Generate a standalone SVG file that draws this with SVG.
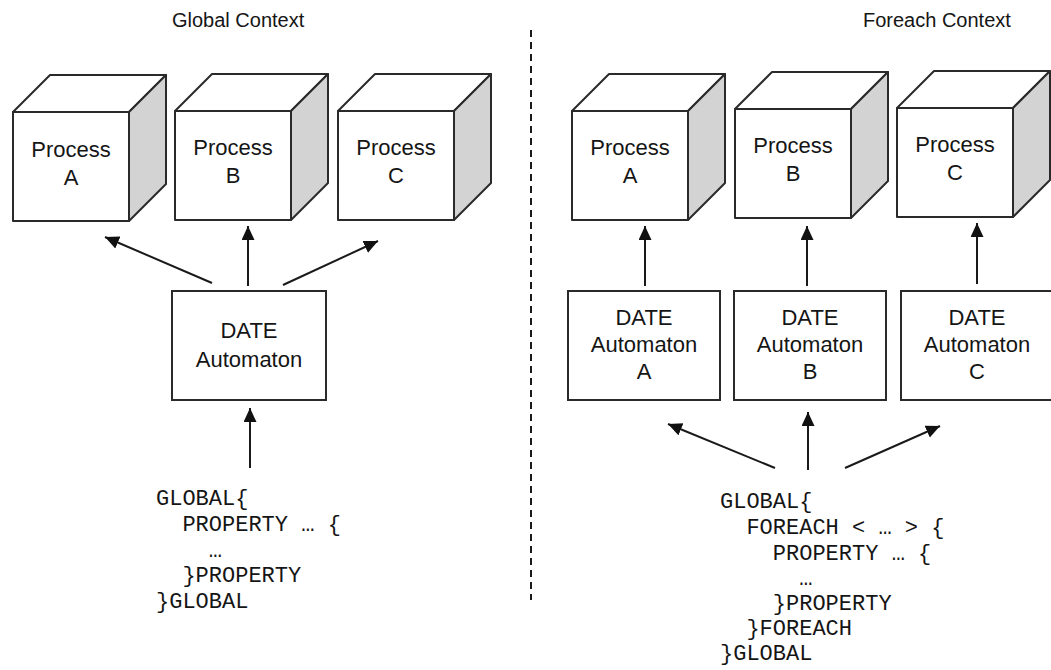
<svg xmlns="http://www.w3.org/2000/svg" width="1051" height="670" viewBox="0 0 1051 670">
  <style>
    .face { fill: #ffffff; stroke: #2a2a2a; stroke-width: 2; stroke-linejoin: round; }
    .side { fill: #d3d3d3; stroke: #2a2a2a; stroke-width: 2; stroke-linejoin: round; }
    .box { fill: #ffffff; stroke: #2a2a2a; stroke-width: 2; }
    .lbl { font-family: "Liberation Sans", Arial, sans-serif; font-size: 22px; fill: #151515; text-anchor: middle; }
    .title { font-family: "Liberation Sans", Arial, sans-serif; font-size: 20px; fill: #151515; }
    .code { font-family: "Liberation Mono", "Courier New", monospace; font-size: 22px; fill: #151515; white-space: pre; }
    .arrow { stroke: #1a1a1a; stroke-width: 2; fill: none; marker-end: url(#head); }
    .divider { stroke: #1a1a1a; stroke-width: 2; stroke-dasharray: 7 5; }
  </style>
  <defs>
    <marker id="head" markerUnits="userSpaceOnUse" markerWidth="16" markerHeight="14" refX="14" refY="6.5" orient="auto">
      <path d="M0,0 L14,6.5 L0,13 Z" fill="#111111"/>
    </marker>
    <!-- cube: front face 116x109, depth 37 -->
    <g id="cube">
      <path class="face" d="M0,0 L37,-37 L153,-37 L116,0 Z"/>
      <path class="side" d="M116,0 L153,-37 L153,72 L116,109 Z"/>
      <rect class="face" x="0" y="0" width="116" height="109"/>
    </g>
  </defs>

  <!-- titles and divider -->
  <text class="title" x="172" y="27">Global Context</text>
  <text class="title" x="863" y="27">Foreach Context</text>
  <line class="divider" x1="531" y1="30" x2="531" y2="600"/>

  <!-- Global context: processes -->
  <g id="g-process-a">
    <use href="#cube" x="13" y="112"/>
    <text class="lbl" x="71" y="157">Process</text>
    <text class="lbl" x="71" y="185">A</text>
  </g>
  <g id="g-process-b">
    <use href="#cube" x="175" y="111"/>
    <text class="lbl" x="233" y="155">Process</text>
    <text class="lbl" x="233" y="183">B</text>
  </g>
  <g id="g-process-c">
    <use href="#cube" x="338" y="111"/>
    <text class="lbl" x="396" y="155">Process</text>
    <text class="lbl" x="396" y="183">C</text>
  </g>

  <g id="g-automaton">
    <rect class="box" x="172" y="291" width="154" height="109"/>
    <text class="lbl" x="249" y="338">DATE</text>
    <text class="lbl" x="249" y="367">Automaton</text>
  </g>

  <g id="g-code">
    <text class="code" x="156" y="505">GLOBAL{</text>
    <text class="code" x="156" y="531">  PROPERTY … {</text>
    <text class="code" x="156" y="557">    …</text>
    <text class="code" x="156" y="582">  }PROPERTY</text>
    <text class="code" x="156" y="608">}GLOBAL</text>
  </g>

  <!-- Foreach context: processes -->
  <g id="f-process-a">
    <use href="#cube" x="572" y="111"/>
    <text class="lbl" x="630" y="155">Process</text>
    <text class="lbl" x="630" y="183">A</text>
  </g>
  <g id="f-process-b">
    <use href="#cube" x="735" y="109"/>
    <text class="lbl" x="793" y="153">Process</text>
    <text class="lbl" x="793" y="181">B</text>
  </g>
  <g id="f-process-c">
    <use href="#cube" x="897" y="108"/>
    <text class="lbl" x="955" y="152">Process</text>
    <text class="lbl" x="955" y="180">C</text>
  </g>

  <g id="f-automaton-a">
    <rect class="box" x="568" y="291" width="152" height="109"/>
    <text class="lbl" x="644" y="325">DATE</text>
    <text class="lbl" x="644" y="352">Automaton</text>
    <text class="lbl" x="644" y="379">A</text>
  </g>
  <g id="f-automaton-b">
    <rect class="box" x="734" y="291" width="152" height="109"/>
    <text class="lbl" x="810" y="325">DATE</text>
    <text class="lbl" x="810" y="352">Automaton</text>
    <text class="lbl" x="810" y="379">B</text>
  </g>
  <g id="f-automaton-c">
    <rect class="box" x="901" y="291" width="152" height="109"/>
    <text class="lbl" x="977" y="325">DATE</text>
    <text class="lbl" x="977" y="352">Automaton</text>
    <text class="lbl" x="977" y="379">C</text>
  </g>

  <g id="f-code">
    <text class="code" x="720" y="508">GLOBAL{</text>
    <text class="code" x="720" y="534">  FOREACH &lt; … &gt; {</text>
    <text class="code" x="720" y="560">    PROPERTY … {</text>
    <text class="code" x="720" y="585">      …</text>
    <text class="code" x="720" y="610">    }PROPERTY</text>
    <text class="code" x="720" y="635">  }FOREACH</text>
    <text class="code" x="720" y="660">}GLOBAL</text>
  </g>

  <!-- connectors -->
  <g id="connectors">
    <line class="arrow" x1="248" y1="286" x2="248" y2="226"/>
    <line class="arrow" x1="212" y1="283" x2="105" y2="237"/>
    <line class="arrow" x1="283" y1="285" x2="378" y2="241"/>
    <line class="arrow" x1="250" y1="468" x2="250" y2="408"/>

    <line class="arrow" x1="645" y1="286" x2="645" y2="226"/>
    <line class="arrow" x1="807" y1="286" x2="807" y2="226"/>
    <line class="arrow" x1="977" y1="284" x2="977" y2="223"/>
    <line class="arrow" x1="775" y1="468" x2="668" y2="424"/>
    <line class="arrow" x1="808" y1="470" x2="808" y2="412"/>
    <line class="arrow" x1="845" y1="468" x2="940" y2="426"/>
  </g>
</svg>
